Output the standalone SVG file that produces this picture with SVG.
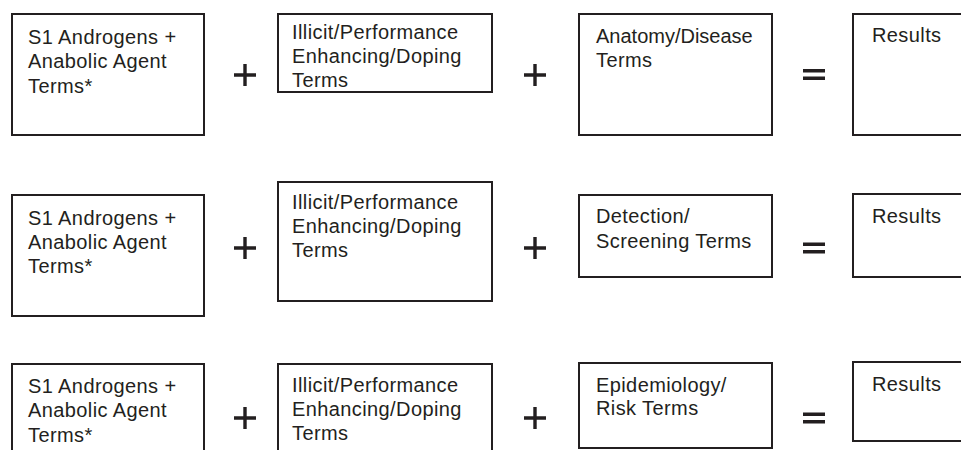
<svg xmlns="http://www.w3.org/2000/svg" width="961" height="450" viewBox="0 0 961 450">
<style>
.box{fill:#fff;stroke:#231f20;stroke-width:2}
.t{font-family:"Liberation Sans",Arial,sans-serif;font-size:20px;letter-spacing:0.4px;fill:#231f20}
.n{letter-spacing:0}
.op{stroke:#231f20;stroke-width:3.4;fill:none}
</style>
<rect x="0" y="0" width="961" height="450" fill="#fff"/>
<g id="row1">
<g id="a1"><rect class="box" x="12" y="14" width="192" height="121"/>
<text class="t" x="28" y="44">S1 Androgens +</text><text class="t" x="28" y="68">Anabolic Agent</text><text class="t" x="28" y="93">Terms*</text></g>
<g id="b1"><rect class="box" x="278" y="14" width="214" height="78"/>
<text class="t" x="292" y="39">Illicit/Performance</text><text class="t" x="292" y="63">Enhancing/Doping</text><text class="t" x="292" y="87">Terms</text></g>
<g id="c1"><rect class="box" x="579" y="14" width="193" height="121"/>
<text class="t n" x="596" y="43">Anatomy/Disease</text><text class="t" x="596" y="67">Terms</text></g>
<g id="d1"><rect class="box" x="853" y="14" width="120" height="121"/>
<text class="t" x="872" y="42">Results</text></g>
</g>
<g id="row2">
<g id="a2"><rect class="box" x="12" y="195" width="192" height="121"/>
<text class="t" x="28" y="225">S1 Androgens +</text><text class="t" x="28" y="249">Anabolic Agent</text><text class="t" x="28" y="273">Terms*</text></g>
<g id="b2"><rect class="box" x="278" y="182" width="214" height="119"/>
<text class="t" x="292" y="209">Illicit/Performance</text><text class="t" x="292" y="233">Enhancing/Doping</text><text class="t" x="292" y="257">Terms</text></g>
<g id="c2"><rect class="box" x="579" y="195" width="193" height="82"/>
<text class="t" x="596" y="223">Detection/</text><text class="t" x="596" y="248">Screening Terms</text></g>
<g id="d2"><rect class="box" x="853" y="194" width="120" height="83"/>
<text class="t" x="872" y="223">Results</text></g>
</g>
<g id="row3">
<g id="a3"><rect class="box" x="12" y="364" width="192" height="100"/>
<text class="t" x="28" y="393">S1 Androgens +</text><text class="t" x="28" y="417">Anabolic Agent</text><text class="t" x="28" y="442">Terms*</text></g>
<g id="b3"><rect class="box" x="278" y="364" width="214" height="100"/>
<text class="t" x="292" y="392">Illicit/Performance</text><text class="t" x="292" y="416">Enhancing/Doping</text><text class="t" x="292" y="440">Terms</text></g>
<g id="c3"><rect class="box" x="579" y="363" width="193" height="85"/>
<text class="t" x="596" y="392">Epidemiology/</text><text class="t" x="596" y="415">Risk Terms</text></g>
<g id="d3"><rect class="box" x="853" y="362" width="120" height="79"/>
<text class="t" x="872" y="391">Results</text></g>
</g>
<g id="connectors">
<path class="op" d="M234 75H256M245 64V86M524 75H546M535 64V86"/>
<path class="op" d="M803 70.7H825M803 78.3H825"/>
<path class="op" d="M234 248H256M245 237V259M524 248H546M535 237V259"/>
<path class="op" d="M803 244.2H825M803 251.8H825"/>
<path class="op" d="M234 418H256M245 407V429M524 418H546M535 407V429"/>
<path class="op" d="M803 414.2H825M803 421.8H825"/>
</g>
</svg>
